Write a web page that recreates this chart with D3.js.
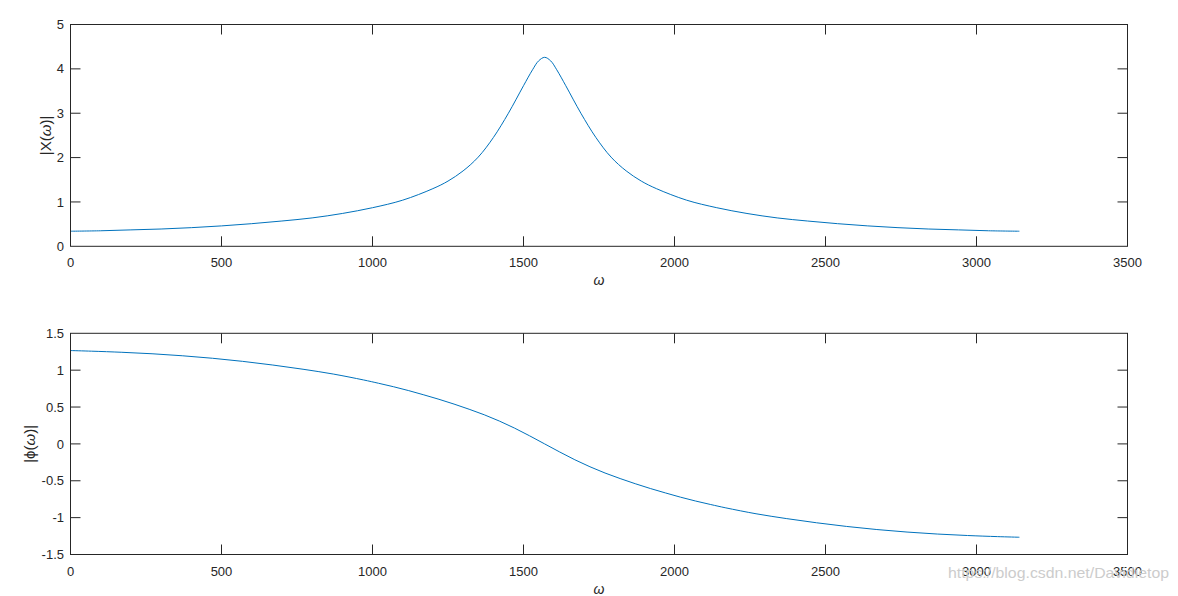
<!DOCTYPE html>
<html>
<head>
<meta charset="utf-8">
<script src="https://cdn.jsdelivr.net/npm/d3@7"></script>
<style>
  html, body { margin: 0; padding: 0; background: #fff; }
  svg { display: block; }
  text { font-family: "Liberation Sans", Arial, sans-serif; fill: #262626; }
</style>
</head>
<body>
<svg id="chart" width="1178" height="596"></svg>
<script>
// ---- data ----
const omegaMag = [0,100,200,300,400,500,600,700,800,900,1000,1100,1200,1250,1300,1350,1400,1450,1500,1530,1550,1570,1590,1610,1640,1690,1740,1790,1840,1890,1940,2040,2140,2240,2340,2440,2540,2640,2740,2840,2940,3040,3142];
const magnitude = [0.34,0.35,0.37,0.39,0.42,0.46,0.51,0.57,0.64,0.74,0.87,1.04,1.30,1.47,1.70,2.01,2.45,3.00,3.62,3.98,4.18,4.26,4.18,3.98,3.62,3.00,2.45,2.01,1.70,1.47,1.30,1.04,0.87,0.74,0.64,0.57,0.51,0.46,0.42,0.39,0.37,0.35,0.34];

const omegaPhase = [0,70,170,270,370,470,570,670,770,870,970,1020,1070,1120,1170,1220,1270,1320,1370,1420,1470,1520,1570,1620,1670,1720,1770,1820,1870,1920,1970,2020,2070,2120,2170,2270,2370,2470,2570,2670,2770,2870,2970,3070,3142];
const phase = [1.266,1.2575,1.2425,1.2225,1.1955,1.1615,1.1195,1.0695,1.0125,0.9475,0.8675,0.8225,0.775,0.7225,0.665,0.605,0.54,0.47,0.395,0.31,0.215,0.11,0.00,-0.11,-0.215,-0.31,-0.395,-0.47,-0.54,-0.605,-0.665,-0.7225,-0.775,-0.8225,-0.8675,-0.9475,-1.0125,-1.0695,-1.1195,-1.1615,-1.1955,-1.2225,-1.2425,-1.2575,-1.266];

const xTicks = [0,500,1000,1500,2000,2500,3000,3500];
const magTicks = [0,1,2,3,4,5];
const phaseTicks = [-1.5,-1,-0.5,0,0.5,1,1.5];
const xLabel = "ω";
const watermark = "https://blog.csdn.net/Davidietop";

// ---- drawing ----
const svg = d3.select("#chart");
const left = 70.5, right = 1127.5;
const axisColor = "#262626", lineColor = "#0072BD";
const tickLen = 10;

function panel(opts) {
  const { top, bottom, xs, ys, yDomain, yTicks, labelParts, labelX } = opts;
  const x = d3.scaleLinear().domain([0, 3500]).range([left, right]);
  const y = d3.scaleLinear().domain(yDomain).range([bottom, top]);
  const g = svg.append("g");

  // data line
  const line = d3.line().x(d => x(d[0])).y(d => y(d[1])).curve(d3.curveCatmullRom.alpha(0.5));
  g.append("path")
    .datum(xs.map((v, i) => [v, ys[i]]))
    .attr("d", line)
    .attr("fill", "none")
    .attr("stroke", lineColor)
    .attr("stroke-width", 1);

  // box
  g.append("rect")
    .attr("x", left).attr("y", top)
    .attr("width", right - left).attr("height", bottom - top)
    .attr("fill", "none").attr("stroke", axisColor).attr("stroke-width", 1);

  // x ticks (bottom + mirrored top)
  xTicks.forEach(t => {
    const px = x(t);
    if (t !== 0 && t !== 3500) {
      g.append("line").attr("x1", px).attr("x2", px).attr("y1", bottom).attr("y2", bottom - tickLen)
        .attr("stroke", axisColor);
      g.append("line").attr("x1", px).attr("x2", px).attr("y1", top).attr("y2", top + tickLen)
        .attr("stroke", axisColor);
    }
    g.append("text").attr("x", px).attr("y", bottom + 21)
      .attr("text-anchor", "middle").attr("font-size", 13).text(String(t));
  });

  // y ticks (left + mirrored right)
  yTicks.forEach(t => {
    const py = y(t);
    if (t !== yDomain[0] && t !== yDomain[1]) {
      g.append("line").attr("x1", left).attr("x2", left + tickLen).attr("y1", py).attr("y2", py)
        .attr("stroke", axisColor);
      g.append("line").attr("x1", right).attr("x2", right - tickLen).attr("y1", py).attr("y2", py)
        .attr("stroke", axisColor);
    }
    g.append("text").attr("x", left - 6.5).attr("y", py + 4.6)
      .attr("text-anchor", "end").attr("font-size", 13).text(String(t));
  });

  // x label
  g.append("text").attr("x", (left + right) / 2).attr("y", bottom + 39)
    .attr("text-anchor", "middle").attr("font-size", 14)
    .attr("font-style", "italic").text(xLabel);

  // y label
  const yl = g.append("text")
    .attr("transform", `translate(${labelX},${(top + bottom) / 2}) rotate(-90)`)
    .attr("text-anchor", "middle").attr("dy", "0.35em").attr("font-size", 15);
  labelParts.forEach(p => {
    const ts = yl.append("tspan").text(p.t);
    if (p.italic) ts.attr("font-style", "italic");
  });
}

panel({
  top: 24.5, bottom: 246.3, xs: omegaMag, ys: magnitude,
  yDomain: [0, 5], yTicks: magTicks, labelX: 45.5,
  labelParts: [{t: "|X("}, {t: "ω", italic: true}, {t: ")|"}]
});
panel({
  top: 333.3, bottom: 554.5, xs: omegaPhase, ys: phase,
  yDomain: [-1.5, 1.5], yTicks: phaseTicks, labelX: 30,
  labelParts: [{t: "|"}, {t: "ϕ"}, {t: "("}, {t: "ω", italic: true}, {t: ")|"}]
});

// watermark
svg.append("text").attr("x", 948).attr("y", 577.5)
  .attr("font-size", 15).style("fill", "#cccccc")
  .attr("textLength", 221).attr("lengthAdjust", "spacingAndGlyphs")
  .text(watermark);
</script>
</body>
</html>
